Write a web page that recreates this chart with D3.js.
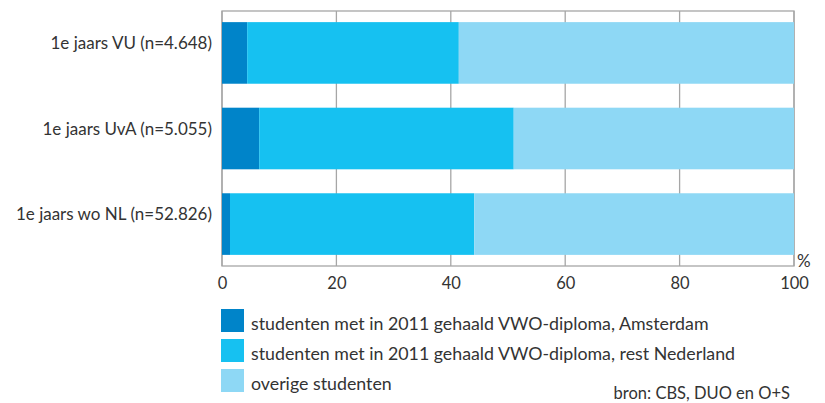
<!DOCTYPE html>
<html>
<head>
<meta charset="utf-8">
<script src="https://cdn.jsdelivr.net/npm/d3@7"></script>
<style>
  body { margin: 0; background: #fff; }
  svg { display: block; font-family: Lato, "Noto Sans", sans-serif; }
</style>
</head>
<body>
<svg id="chart" width="825" height="403"></svg>
<script>
////////////////////////////////////////////////////////////////////////
//
// data
//
////////////////////////////////////////////////////////////////////////
var categories = ["1e jaars VU (n=4.648)", "1e jaars UvA (n=5.055)", "1e jaars wo NL (n=52.826)"];
var amsterdam  = [4.4, 6.5, 1.4];
var restNL     = [37.0, 44.5, 42.7];
var overig     = [58.6, 49.0, 55.9];
var seriesNames = [
  "studenten met in 2011 gehaald VWO-diploma, Amsterdam",
  "studenten met in 2011 gehaald VWO-diploma, rest Nederland",
  "overige studenten"
  ];
var xTicks = [0, 20, 40, 60, 80, 100];
var colors = ["#0084c9", "#16c1f1", "#8ed8f5"];

////////////////////////////////////////////////////////////////////////
//
// draw chart
//
////////////////////////////////////////////////////////////////////////
function drawChart()
  {
  var svg = d3.select("#chart");
  var left = 222, right = 794, top = 11, bottom = 266;
  var gridColor = "#a6a6a6";
  var textColor = "#333";

  var x = d3.scaleLinear().domain([0, 100]).range([left, right]);
  var y = d3.scaleBand().domain(categories).range([top, bottom])
    .paddingInner(0.28).paddingOuter(0.13);

  //gridlines + frame
  svg.append("g").selectAll("line")
    .data(xTicks)
    .enter()
    .append("line")
    .attr("x1", d => x(d)).attr("x2", d => x(d))
    .attr("y1", top).attr("y2", bottom)
    .attr("stroke", gridColor).attr("stroke-width", 1.3);

  svg.append("rect")
    .attr("x", left).attr("y", top)
    .attr("width", right - left).attr("height", bottom - top)
    .attr("fill", "none").attr("stroke", gridColor).attr("stroke-width", 1.3);

  //stacked bars
  var rows = categories.map((c, i) => ({cat: c, a: amsterdam[i], b: restNL[i], c: overig[i]}));
  var stack = d3.stack().keys(["a", "b", "c"]);
  var layers = stack(rows);

  svg.append("g").selectAll("g")
    .data(layers)
    .enter()
    .append("g")
    .attr("fill", (d, i) => colors[i])
    .selectAll("rect")
    .data(d => d)
    .enter()
    .append("rect")
    .attr("x", d => x(d[0]))
    .attr("width", d => x(Math.min(d[1], 100)) - x(d[0]))
    .attr("y", d => y(d.data.cat))
    .attr("height", y.bandwidth());

  //category labels
  svg.append("g").selectAll("text")
    .data(categories)
    .enter()
    .append("text")
    .attr("x", 212)
    .attr("y", d => y(d) + y.bandwidth() / 2 - 4)
    .attr("text-anchor", "end")
    .attr("font-size", 17)
    .attr("fill", textColor)
    .text(d => d);

  //x axis labels
  var xAxis = d3.axisBottom(x).tickValues(xTicks).tickSize(0).tickPadding(11.5);
  var ax = svg.append("g")
    .attr("transform", "translate(0," + bottom + ")")
    .call(xAxis);
  ax.select(".domain").remove();
  ax.selectAll("text")
    .attr("font-family", "Lato, 'Noto Sans', sans-serif")
    .attr("font-size", 16.5)
    .attr("fill", textColor);

  svg.append("text")
    .attr("x", 797).attr("y", 267)
    .attr("font-size", 17).attr("fill", textColor)
    .text("%");

  //legend
  var legend = svg.append("g").selectAll("g")
    .data(seriesNames)
    .enter()
    .append("g")
    .attr("transform", (d, i) => "translate(221," + (309 + i * 30) + ")");

  legend.append("rect")
    .attr("width", 23).attr("height", 23)
    .attr("fill", (d, i) => colors[i]);

  legend.append("text")
    .attr("x", 30).attr("y", 20.5)
    .attr("font-size", 17.8).attr("fill", textColor)
    .text(d => d);

  //source
  svg.append("text")
    .attr("x", 790).attr("y", 399)
    .attr("text-anchor", "end")
    .attr("font-size", 16.5).attr("fill", textColor)
    .text("bron: CBS, DUO en O+S");
  }

drawChart();
</script>
</body>
</html>
